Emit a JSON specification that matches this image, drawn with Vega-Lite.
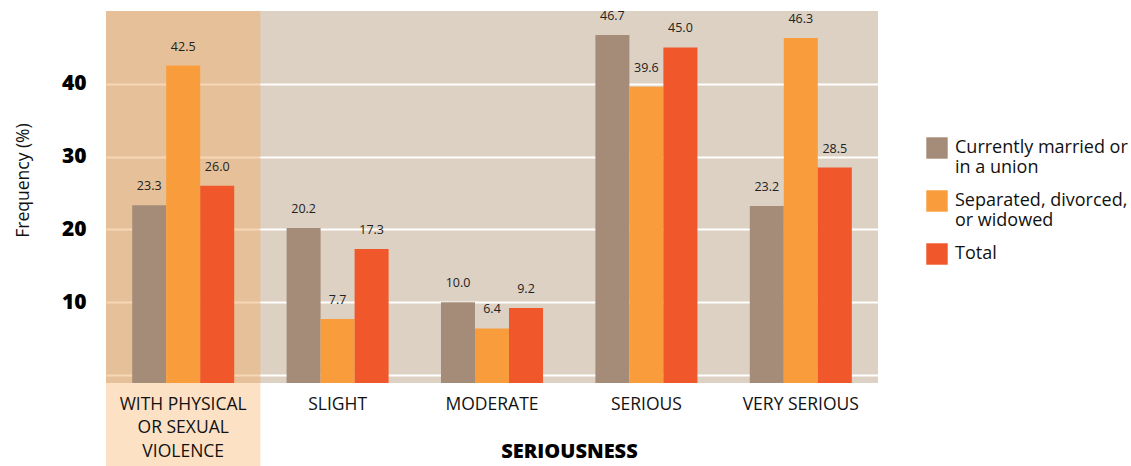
{
  "$schema": "https://vega.github.io/schema/vega-lite/v6.json",
  "width": 772,
  "height": 372,
  "autosize": "none",
  "padding": {"left": 106, "top": 11, "right": 253, "bottom": 83},
  "background": "white",
  "view": {"fill": "#DDD1C3", "stroke": null},
  "config": {"font": "Open Sans"},
  "data": {
    "values": [
      {"cat": "WITH PHYSICAL OR SEXUAL VIOLENCE", "group": "Currently married or in a union", "value": 23.3},
      {"cat": "WITH PHYSICAL OR SEXUAL VIOLENCE", "group": "Separated, divorced, or widowed", "value": 42.5},
      {"cat": "WITH PHYSICAL OR SEXUAL VIOLENCE", "group": "Total", "value": 26.0},
      {"cat": "SLIGHT", "group": "Currently married or in a union", "value": 20.2},
      {"cat": "SLIGHT", "group": "Separated, divorced, or widowed", "value": 7.7},
      {"cat": "SLIGHT", "group": "Total", "value": 17.3},
      {"cat": "MODERATE", "group": "Currently married or in a union", "value": 10.0},
      {"cat": "MODERATE", "group": "Separated, divorced, or widowed", "value": 6.4},
      {"cat": "MODERATE", "group": "Total", "value": 9.2},
      {"cat": "SERIOUS", "group": "Currently married or in a union", "value": 46.7},
      {"cat": "SERIOUS", "group": "Separated, divorced, or widowed", "value": 39.6},
      {"cat": "SERIOUS", "group": "Total", "value": 45.0},
      {"cat": "VERY SERIOUS", "group": "Currently married or in a union", "value": 23.2},
      {"cat": "VERY SERIOUS", "group": "Separated, divorced, or widowed", "value": 46.3},
      {"cat": "VERY SERIOUS", "group": "Total", "value": 28.5}
    ]
  },
  "encoding": {
    "x": {
      "field": "cat",
      "type": "nominal",
      "sort": ["WITH PHYSICAL OR SEXUAL VIOLENCE", "SLIGHT", "MODERATE", "SERIOUS", "VERY SERIOUS"],
      "scale": {"paddingInner": 0, "paddingOuter": 0},
      "axis": {
        "labelAngle": 0,
        "labelFontSize": 17.5,
        "labelColor": "#111111",
        "labelPadding": 12,
        "labelLineHeight": 23.5,
        "labelLimit": 300,
        "labelExpr": "datum.value == 'WITH PHYSICAL OR SEXUAL VIOLENCE' ? ['WITH PHYSICAL', 'OR SEXUAL', 'VIOLENCE'] : datum.label",
        "ticks": false,
        "domain": false,
        "title": "SERIOUSNESS",
        "titleFontSize": 20,
        "titleFontWeight": 800,
        "titleColor": "#000000",
        "titleX": 463,
        "titleY": 68,
        "titleAlign": "center",
        "titleBaseline": "middle",
        "zindex": 1
      }
    },
    "y": {
      "field": "value",
      "type": "quantitative",
      "scale": {"domain": [-1.1, 50], "nice": false, "zero": false},
      "axis": {
        "values": [0, 10, 20, 30, 40],
        "labelExpr": "datum.value == 0 ? '' : datum.label",
        "labelFontSize": 21,
        "labelFontWeight": 800,
        "labelColor": "#000000",
        "labelPadding": 20,
        "ticks": false,
        "domain": false,
        "grid": true,
        "gridColor": "#FFFFFF",
        "gridWidth": 2,
        "gridOpacity": 1,
        "title": "Frequency (%)",
        "titleFontSize": 17.5,
        "titleFontWeight": "normal",
        "titleColor": "#111111",
        "titlePadding": 29,
        "titleY": 169,
        "zindex": 0
      }
    }
  },
  "layer": [
    {
      "transform": [{"filter": "datum.cat == 'WITH PHYSICAL OR SEXUAL VIOLENCE' && datum.group == 'Total'"}],
      "mark": {"type": "rect", "color": "#F0B070", "opacity": 0.5},
      "encoding": {
        "y": {"datum": 50, "type": "quantitative"},
        "y2": {"datum": -1.1}
      }
    },
    {
      "transform": [{"filter": "datum.cat == 'WITH PHYSICAL OR SEXUAL VIOLENCE' && datum.group == 'Total'"}],
      "mark": {"type": "rect", "color": "#FCE1C5", "clip": false},
      "encoding": {
        "y": {"datum": -1.1, "type": "quantitative"},
        "y2": {"datum": -12.6}
      }
    },
    {
      "mark": {"type": "bar"},
      "encoding": {
        "xOffset": {"field": "group", "type": "nominal", "scale": {"paddingInner": 0, "paddingOuter": 0.77}},
        "y2": {"datum": -1.1},
        "color": {
          "field": "group",
          "type": "nominal",
          "scale": {
            "domain": ["Currently married or in a union", "Separated, divorced, or widowed", "Total"],
            "range": ["#A58C79", "#F99D3C", "#F0572A"]
          },
          "legend": {
            "orient": "none",
            "legendX": 820,
            "legendY": 126,
            "title": null,
            "symbolType": "square",
            "symbolSize": 460,
            "symbolStrokeWidth": 0,
            "symbolOpacity": 1,
            "labelFontSize": 18,
            "labelColor": "#111111",
            "labelLimit": 400,
            "labelOffset": 7,
            "labelLineHeight": 19,
            "rowPadding": 13,
            "labelExpr": "datum.label == 'Currently married or in a union' ? ['Currently married or', 'in a union'] : datum.label == 'Separated, divorced, or widowed' ? ['Separated, divorced,', 'or widowed'] : datum.label"
          }
        }
      }
    },
    {
      "mark": {"type": "text", "fontSize": 12.5, "baseline": "bottom", "dy": -12, "color": "#222222"},
      "encoding": {
        "xOffset": {"field": "group", "type": "nominal", "scale": {"paddingInner": 0, "paddingOuter": 0.77}},
        "text": {"field": "value", "type": "quantitative", "format": ".1f"}
      }
    }
  ]
}
